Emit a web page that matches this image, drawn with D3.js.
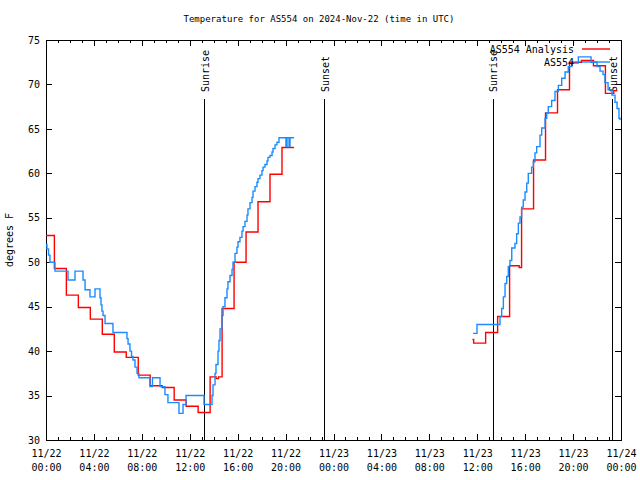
<!DOCTYPE html>
<html><head><meta charset="utf-8">
<script src="https://cdn.jsdelivr.net/npm/d3@7"></script>
<style>body{margin:0;background:#fff}svg{display:block}text{font-family:"DejaVu Sans Mono",monospace;font-size:10px;fill:#000}</style>
</head><body><svg id="c" width="640" height="480"></svg>
<script>
// ---- data (hours since 2024-11-22 00:00 UTC) ----
const titleText = "Temperature for AS554 on 2024-Nov-22 (time in UTC)";
const yLabel = "degrees F";
const yTicks = [30,35,40,45,50,55,60,65,70,75];
const xMajorTicks = [0,4,8,12,16,20,24,28,32,36,40,44,48];
const xTickDates = ["11/22","11/22","11/22","11/22","11/22","11/22","11/23","11/23","11/23","11/23","11/23","11/23","11/24"];
const xTickTimes = ["00:00","04:00","08:00","12:00","16:00","20:00","00:00","04:00","08:00","12:00","16:00","20:00","00:00"];
const sunTimes = [13.27, 23.29, 37.32, 47.33];
const sunLabels = ["Sunrise","Sunset","Sunrise","Sunset"];
const seriesNames = ["AS554 Analysis","AS554"];

// AS554 Analysis (hourly steps)
const anaTimes = [0,0.7,1.7,2.7,3.7,4.7,5.7,6.7,7.7,8.7,9.7,10.7,11.7,12.7,13.7,14.2,14.4,14.7,15.7,16.7,17.7,18.7,19.7,20.7,
  21,
  35.6,35.7,36.7,37.7,38.7,39.5,39.7,40.7,41.7,42.7,43.7,44.7,45.7,46.7,47.4,47.7];
const anaTemps = [53.0,49.3,46.3,44.9,43.6,41.9,39.9,39.3,37.3,36.1,35.9,34.5,33.8,33.1,37.1,36.9,37.1,44.8,50.0,53.4,56.8,59.9,62.9,62.9,
  null,
  41.3,40.9,42.1,43.9,49.6,49.4,56.0,61.5,66.8,69.4,72.5,72.7,72.1,69.0,69.3,69.3];

// AS554 observations
const obsTimes = [0,0.08,0.21,0.33,0.75,1.84,2.42,3.09,3.26,3.67,4.09,4.51,4.59,4.67,4.76,4.93,5.59,6.76,6.85,7.01,7.14,7.26,7.43,7.60,7.76,
  8.68,8.89,9.52,9.93,10.18,11.10,11.44,11.69,13.19,13.86,13.94,14.11,14.19,14.36,14.44,14.53,14.69,14.78,14.94,15.11,15.19,15.36,15.53,15.61,
  15.78,15.94,16.03,16.19,16.36,16.45,16.61,16.78,16.86,17.03,17.20,17.28,17.45,17.61,17.70,17.86,18.03,18.12,18.28,18.45,18.53,18.70,18.87,18.95,
  19.12,19.28,19.45,20.03,20.12,20.29,20.37,20.70,
  21,
  35.65,35.98,37.90,38.04,38.18,38.32,38.46,38.59,38.73,38.88,39.15,39.29,39.43,39.57,39.71,39.84,39.99,40.13,40.26,40.54,40.68,40.82,40.96,
  41.24,41.38,41.66,41.80,41.93,42.21,42.49,42.77,43.05,43.33,43.60,43.89,44.44,45.50,46.00,46.25,46.50,46.66,46.92,47.25,47.50,47.67,47.83,47.92];
const obsTemps = [52.0,51.5,50.8,50.0,49.0,48.0,49.0,48.0,46.9,46.1,47.0,46.0,45.2,44.5,44.0,43.1,42.1,41.4,40.8,40.0,39.4,39.0,38.2,37.5,37.0,
  36.0,37.0,36.0,35.1,34.2,33.0,34.0,35.0,34.0,35.0,36.2,37.5,38.5,40.0,41.2,42.5,44.0,45.0,46.0,47.0,47.8,48.5,49.2,50.0,
  51.0,51.7,52.3,52.8,53.5,54.0,54.6,55.3,56.0,56.7,57.3,58.0,58.5,59.0,59.4,59.8,60.3,60.7,61.0,61.4,61.8,62.0,62.4,62.8,
  63.2,63.5,64.0,63.0,64.0,63.0,64.0,64.0,
  null,
  42.0,43.0,43.9,44.8,46.1,47.6,48.4,49.5,50.2,51.6,52.1,53.2,54.4,55.1,56.2,57.0,57.9,58.9,60.0,60.7,61.3,62.3,63.0,
  64.3,65.1,66.2,66.8,67.5,68.2,69.2,69.9,70.7,71.4,72.0,72.4,73.1,72.5,72.0,71.5,71.1,70.2,69.4,68.8,68.0,67.3,66.2,66.0];

// ---- drawing ----
const L=46,R=621,T=40,B=440;
const svg=d3.select("#c");
const x=d3.scaleLinear().domain([0,48]).range([L,R]);
const y=d3.scaleLinear().domain([30,75]).range([B,T]);

svg.append("text").attr("x",319).attr("y",22).attr("text-anchor","middle").style("font-size","9px").text(titleText);
svg.append("text").attr("transform","translate(13,240) rotate(-90)").attr("text-anchor","middle").text(yLabel);

// axes
const gl=svg.append("g").attr("transform",`translate(${L},0)`).call(d3.axisLeft(y).tickValues(yTicks).tickSizeInner(-6).tickSizeOuter(0).tickPadding(6).tickFormat(d3.format("d")));
svg.append("g").attr("transform",`translate(${R},0)`).call(d3.axisRight(y).tickValues(yTicks).tickSizeInner(-6).tickSizeOuter(0).tickFormat(""));
const minor=d3.range(0,49,1).filter(h=>h%4!==0);
svg.append("g").attr("transform",`translate(0,${B})`).call(d3.axisBottom(x).tickValues(minor).tickSizeInner(-3).tickSizeOuter(0).tickFormat(""));
svg.append("g").attr("transform",`translate(0,${T})`).call(d3.axisTop(x).tickValues(minor).tickSizeInner(-3).tickSizeOuter(0).tickFormat(""));
svg.append("g").attr("transform",`translate(0,${T})`).call(d3.axisTop(x).tickValues(xMajorTicks).tickSizeInner(-6).tickSizeOuter(0).tickFormat(""));
const gb=svg.append("g").attr("transform",`translate(0,${B})`).call(d3.axisBottom(x).tickValues(xMajorTicks).tickSizeInner(-6).tickSizeOuter(0).tickFormat(""));
gb.selectAll(".tick").append("text").attr("fill","#000").attr("text-anchor","middle")
  .each(function(d,i){const t=d3.select(this);
    t.append("tspan").attr("x",0).attr("y",17).text(xTickDates[i]);
    t.append("tspan").attr("x",0).attr("y",31).text(xTickTimes[i]);});
svg.selectAll(".domain").remove();
svg.selectAll(".tick line").attr("stroke","#000").attr("shape-rendering","crispEdges");
gl.selectAll("text").attr("fill","#000");
svg.selectAll("g").attr("font-family",null).attr("font-size",null);

svg.append("rect").attr("x",L).attr("y",T).attr("width",R-L).attr("height",B-T)
  .attr("fill","none").attr("stroke","#000").attr("shape-rendering","crispEdges");

// sunrise/sunset
sunTimes.forEach((s,i)=>{
  svg.append("line").attr("x1",x(s)).attr("x2",x(s)).attr("y1",99).attr("y2",B).attr("stroke","#000").attr("stroke-width",1).attr("shape-rendering","crispEdges");
  svg.append("text").attr("transform",`translate(${x(s)+4},92) rotate(-90)`).attr("text-anchor","start").text(sunLabels[i]);
});

// series
const line=d3.line().defined(d=>d[1]!==null).x(d=>x(d[0])).y(d=>y(d[1])).curve(d3.curveStepAfter);
const ana=anaTimes.map((t,i)=>[t,anaTemps[i]]);
const obs=obsTimes.map((t,i)=>[t,obsTemps[i]]);
const colors=["#ff0000","#1a8cff"];
svg.append("path").datum(ana).attr("d",line).attr("fill","none").attr("stroke",colors[0]).attr("stroke-width",1.4);
svg.append("path").datum(obs).attr("d",line).attr("fill","none").attr("stroke",colors[1]).attr("stroke-width",1.4);

// legend
seriesNames.forEach((n,i)=>{
  const yy=49+i*13;
  svg.append("text").attr("x",574).attr("y",yy+4).attr("text-anchor","end").text(n);
  svg.append("line").attr("x1",582).attr("x2",610).attr("y1",yy).attr("y2",yy).attr("stroke",colors[i]).attr("stroke-width",1.4);
});
</script></body></html>
